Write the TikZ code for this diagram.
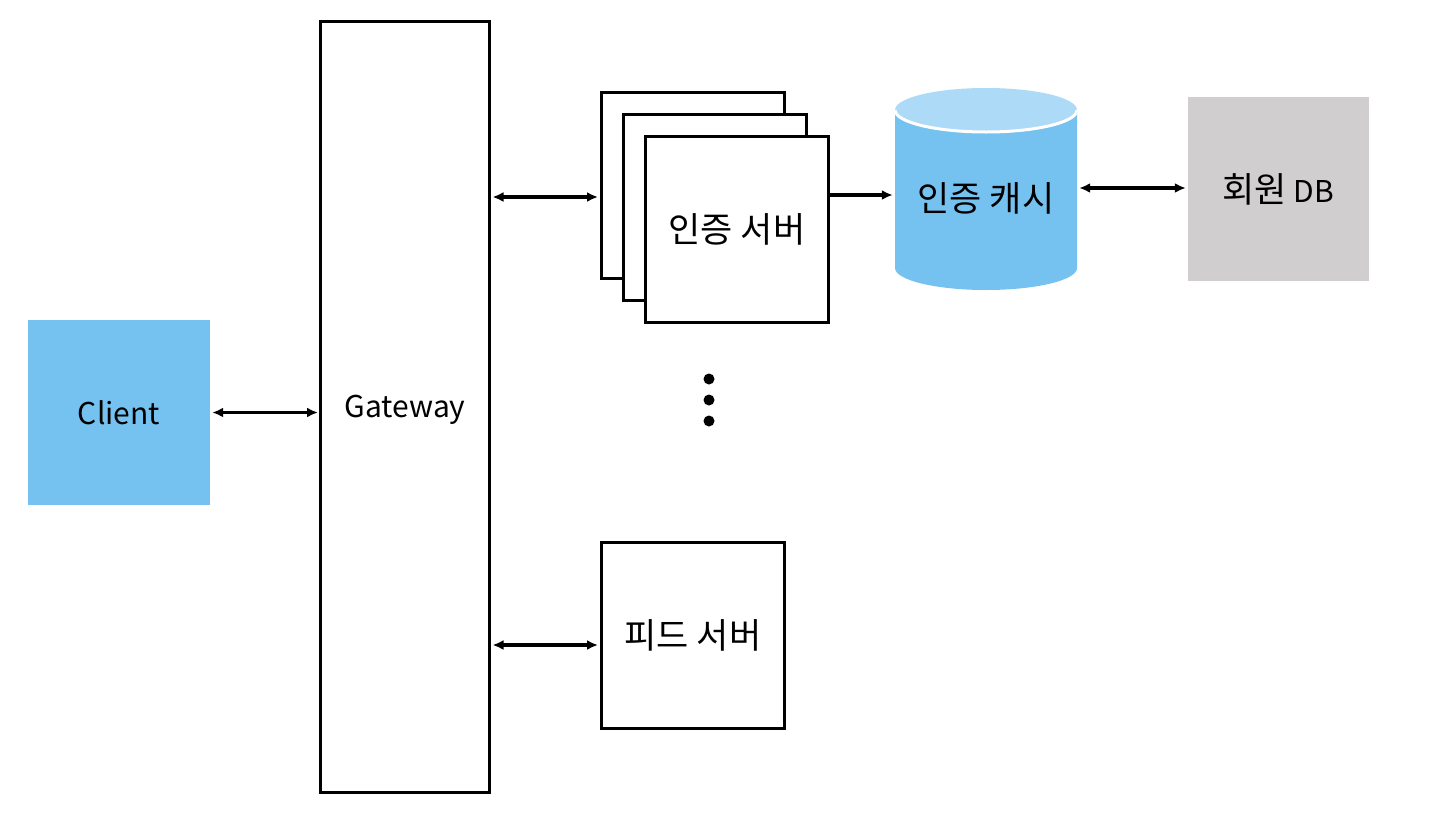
\documentclass[tikz,border=0pt]{standalone}
\usepackage{fontspec}
\setmainfont{Noto Sans CJK KR}
\usetikzlibrary{arrows.meta}
\definecolor{cblue}{RGB}{117,194,240}
\definecolor{ctop}{RGB}{173,218,247}
\definecolor{cgray}{RGB}{208,206,206}
\newcommand{\kr}[1]{{\fontsize{35}{40}\selectfont #1}}
\begin{document}
\begin{tikzpicture}[x=1pt,y=-1pt,
  box/.style={draw=black,line width=3pt,fill=white,minimum width=183pt,minimum height=186pt,inner sep=0pt,font=\fontsize{30}{36}\selectfont},
  plain/.style={inner sep=0pt,font=\fontsize{30}{36}\selectfont},
  tipL/.tip={Latex[length=11pt,width=10pt]},
  conn/.style={line width=3.5pt,-tipL},
  biconn/.style={line width=3.5pt,tipL-tipL}]
\useasboundingbox (0,0) rectangle (1429,833);
% client
\node[plain,fill=cblue,minimum width=182pt,minimum height=185pt] (client) at (119,412.5) {Client};
\node[plain] (gwtxt) at (405,410) {Gateway};
% gateway
\node[draw=black,line width=3pt,minimum width=169pt,minimum height=771pt,inner sep=0pt] (gw) at (405,407) {};
% auth stack
\node[box] (auth1) at (693,185.5) {};
\node[box] (auth2) at (715,207.5) {};
\node[box] (auth3) at (737,229.5) {\kr{인증 서버}};
% feed
\node[box] (feed) at (693,635.5) {\kr{피드 서버}};
% dots
\fill (709,379) circle[radius=5.5];
\fill (709,400) circle[radius=5.5];
\fill (709,421) circle[radius=5.5];
% cylinder
\fill[cblue] (895,110) -- (895,268) arc[start angle=180,end angle=0,x radius=91,y radius=22] -- (1077,110) -- cycle;
\fill[ctop] (986,110) ellipse[x radius=91,y radius=22];
\draw[white,line width=3pt] (1077,110) arc[start angle=0,end angle=180,x radius=91,y radius=22];
\node[plain,minimum width=182pt,minimum height=202pt] (cache) at (986,189) {};
\node[plain] (cachetxt) at (986,198) {\kr{인증 캐시}};
% member DB
\node[plain,fill=cgray,minimum width=181pt,minimum height=184pt] (db) at (1278.5,189) {\kr{회원} DB};
% connectors
\path ([xshift=2pt]client.east) coordinate (pcl);
\draw[biconn] (pcl) -- ([xshift=-1pt]pcl -| gw.west);
\path ([yshift=-11.5pt]auth1.west) coordinate (pa);
\draw[biconn] ([xshift=1.5pt]pa -| gw.east) -- ([xshift=-2pt]pa);
\path ([yshift=-9.5pt]feed.west) coordinate (pf);
\draw[biconn] ([xshift=1.5pt]pf -| gw.east) -- ([xshift=-2pt]pf);
\path ([yshift=34.5pt]auth3.east) coordinate (pc);
\draw[conn] (pc) -- ([xshift=-2pt]pc -| cache.west);
\path ([yshift=1pt]db.west) coordinate (pd);
\draw[biconn] ([xshift=2pt]pd -| cache.east) -- ([xshift=-2pt]pd);
\end{tikzpicture}
\end{document}
